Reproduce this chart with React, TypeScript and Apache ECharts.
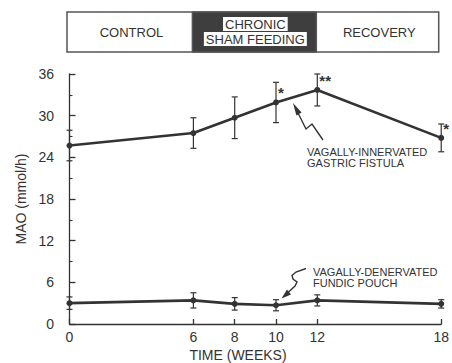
import React, { useEffect, useRef } from "react";
import * as echarts from "echarts";

const weeks = [0, 6, 8, 10, 12, 18];
const fistulaMean = [25.7, 27.5, 29.7, 31.9, 33.7, 26.8];
const fistulaErr = [2.2, 2.2, 3.0, 2.9, 2.3, 2.0];
const fistulaStars = ["", "", "", "*", "**", "*"];
const pouchMean = [3.0, 3.4, 2.9, 2.7, 3.4, 2.9];
const pouchErr = [0.9, 1.1, 0.9, 0.8, 0.8, 0.6];
const xTicks = [0, 6, 8, 10, 12, 18];
const yTicks = [0, 6, 12, 18, 24, 30, 36];
const phases = [
  { label: "CONTROL", from: 0, to: 6, dark: false },
  { label: "CHRONIC\nSHAM FEEDING", from: 6, to: 12, dark: true },
  { label: "RECOVERY", from: 12, to: 18, dark: false },
];

const INK = "#333333";
const FONT = "'Liberation Sans', Arial, sans-serif";

function errorBarSeries(means: number[], errs: number[]) {
  return {
    type: "custom",
    data: weeks.map((w, i) => [w, means[i] - errs[i], means[i] + errs[i]]),
    renderItem: (params: any, api: any) => {
      const lo = api.coord([api.value(0), api.value(1)]);
      const hi = api.coord([api.value(0), api.value(2)]);
      const cap = 3;
      const style = { stroke: INK, lineWidth: 1.2 };
      return {
        type: "group",
        children: [
          { type: "line", shape: { x1: lo[0], y1: lo[1], x2: hi[0], y2: hi[1] }, style },
          { type: "line", shape: { x1: lo[0] - cap, y1: lo[1], x2: lo[0] + cap, y2: lo[1] }, style },
          { type: "line", shape: { x1: hi[0] - cap, y1: hi[1], x2: hi[0] + cap, y2: hi[1] }, style },
        ],
      };
    },
    z: 1,
  };
}

export default function App() {
  const ref = useRef<HTMLDivElement>(null);
  useEffect(() => {
    if (!ref.current) return;
    const chart = echarts.init(ref.current, null, { renderer: "svg" });
    chart.setOption({
      animation: false,
      textStyle: { fontFamily: FONT },
      grid: { left: 69.5, right: 7.5, top: 74, bottom: 39 },
      xAxis: {
        type: "value",
        min: 0,
        max: 18,
        axisLine: { show: true, lineStyle: { color: INK, width: 1.3 } },
        axisTick: { show: true, inside: true, length: 5, customValues: xTicks, lineStyle: { color: INK, width: 1.3 } },
        axisLabel: { customValues: xTicks, color: INK, fontSize: 14, margin: 6, fontFamily: FONT },
        splitLine: { show: false },
      },
      yAxis: {
        type: "value",
        min: 0,
        max: 36,
        interval: 6,
        offset: 10.5,
        name: "MAO (mmol/h)",
        nameLocation: "middle",
        nameGap: 27,
        nameRotate: 90,
        nameTextStyle: { color: INK, fontSize: 14, fontFamily: FONT },
        axisLine: { show: true, lineStyle: { color: INK, width: 1.3 } },
        axisTick: { show: true, inside: true, length: 6, lineStyle: { color: INK, width: 1.3 } },
        minorTick: { show: true, splitNumber: 2, length: 3, lineStyle: { color: INK, width: 1.1 } },
        axisLabel: { color: INK, fontSize: 14, margin: 5, fontFamily: FONT, customValues: yTicks },
        splitLine: { show: false },
      },
      series: [
        errorBarSeries(fistulaMean, fistulaErr),
        errorBarSeries(pouchMean, pouchErr),
        {
          type: "line",
          data: weeks.map((w, i) => ({
            value: [w, fistulaMean[i]],
            label: fistulaStars[i]
              ? { show: true, formatter: fistulaStars[i], position: [5, -14], fontSize: 15, color: INK, fontWeight: "bold" }
              : { show: false },
          })),
          symbol: "circle",
          symbolSize: 6,
          itemStyle: { color: INK },
          lineStyle: { color: INK, width: 2.6 },
          z: 3,
        },
        {
          type: "line",
          data: weeks.map((w, i) => [w, pouchMean[i]]),
          symbol: "circle",
          symbolSize: 6,
          itemStyle: { color: INK },
          lineStyle: { color: INK, width: 2.6 },
          z: 3,
        },
      ],
    });

    const px = (v: number) => chart.convertToPixel({ xAxisIndex: 0 }, v) as number;
    const top = 12;
    const h = 40;
    const graphics: any[] = [];
    graphics.push({
      type: "rect",
      shape: { x: px(0) - 2.5, y: top, width: px(18) - px(0), height: h },
      style: { fill: "#fff", stroke: "#555", lineWidth: 1.5 },
    });
    phases.forEach((p) => {
      const x0 = px(p.from);
      const x1 = px(p.to);
      const cx = (x0 + x1) / 2;
      if (p.dark) {
        graphics.push({
          type: "rect",
          shape: { x: x0 - 1, y: top, width: x1 - x0, height: h },
          style: { fill: "#3e3e3e", stroke: "#555", lineWidth: 1.5 },
        });
        const lines = p.label.split("\n");
        lines.forEach((ln, k) => {
          graphics.push({
            type: "text",
            x: cx,
            y: top + 12 + k * 15,
            style: {
              text: ln,
              fill: INK,
              fontSize: 13,
              fontFamily: FONT,
              align: "center",
              verticalAlign: "middle",
              backgroundColor: "#fff",
              padding: [1, 2, 0, 2],
            },
          });
        });
      } else {
        graphics.push({
          type: "text",
          x: cx,
          y: top + h / 2,
          style: { text: p.label, fill: INK, fontSize: 13, fontFamily: FONT, align: "center", verticalAlign: "middle" },
        });
      }
    });

    // x axis title
    graphics.push({
      type: "text",
      x: 238,
      y: 355,
      style: { text: "TIME (WEEKS)", fill: INK, fontSize: 14, fontFamily: FONT, align: "center", verticalAlign: "middle" },
    });

    // annotations
    graphics.push({
      type: "text",
      x: 307,
      y: 157.5,
      style: {
        text: "VAGALLY-INNERVATED\nGASTRIC FISTULA",
        fill: INK,
        fontSize: 11,
        lineHeight: 11,
        fontFamily: FONT,
        align: "left",
        verticalAlign: "middle",
      },
    });
    graphics.push({
      type: "text",
      x: 313,
      y: 277,
      style: {
        text: "VAGALLY-DENERVATED\nFUNDIC POUCH",
        fill: INK,
        fontSize: 11,
        lineHeight: 11,
        fontFamily: FONT,
        align: "left",
        verticalAlign: "middle",
      },
    });
    graphics.push({
      type: "polyline",
      shape: { points: [[323, 140], [312, 124], [306, 129], [298, 113]] },
      style: { stroke: INK, lineWidth: 1.4, fill: "none" },
    });
    graphics.push({
      type: "polygon",
      shape: { points: [[293, 103], [301.6, 112.6], [296.4, 115.4]] },
      style: { fill: INK },
    });
    graphics.push({
      type: "polyline",
      shape: { points: [[306, 268.5], [296, 272], [292, 275.5], [293, 279], [297, 282], [295, 286], [288, 292.5]] },
      style: { stroke: INK, lineWidth: 1.4, fill: "none" },
    });
    graphics.push({
      type: "polygon",
      shape: { points: [[281.5, 298.5], [291, 294.5], [287, 289.5]] },
      style: { fill: INK },
    });

    chart.setOption({ graphic: graphics });
    return () => chart.dispose();
  }, []);
  return <div ref={ref} style={{ width: 452, height: 363, position: "absolute", left: 0, top: 0, background: "#fff" }} />;
}
